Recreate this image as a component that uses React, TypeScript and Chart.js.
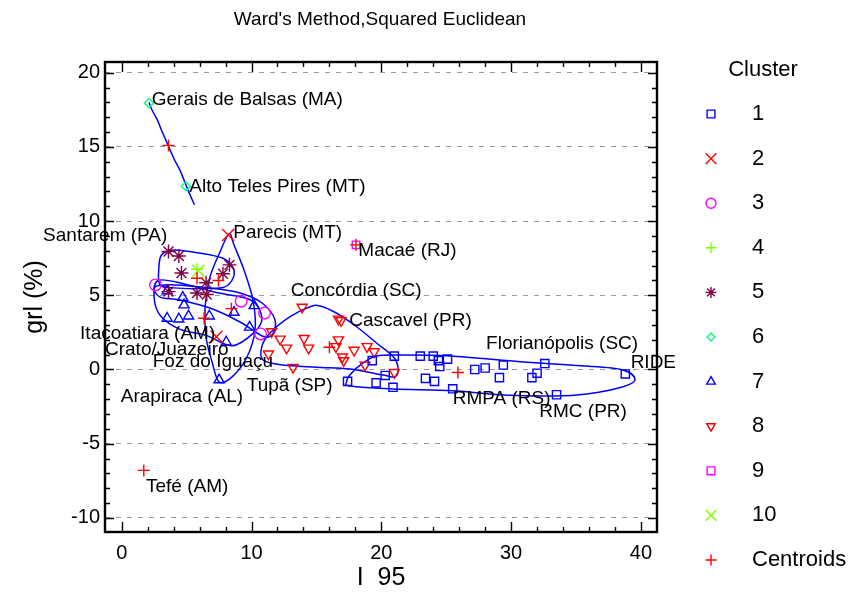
import React, { useEffect, useRef } from 'react';
import { Chart, registerables } from 'chart.js';
import { drawPoint } from 'chart.js/helpers';

Chart.register(...registerables);

const FONT = '"Liberation Sans", Arial, Helvetica, sans-serif';

type Pt = [number, number];

// Cluster members: [I 95, grl (%)]
const cluster1: Pt[] = [
  [17.4, -0.8], [19.3, 0.6], [19.6, -0.9], [20.3, -0.4], [21.0, 0.9], [20.9, -1.2],
  [23.0, 0.9], [23.4, -0.6], [24.0, 0.9], [24.4, 0.6], [24.5, 0.2], [24.1, -0.8],
  [25.1, 0.7], [25.5, -1.3], [27.2, 0.0], [28.0, 0.1], [29.4, 0.3], [29.1, -0.55],
  [31.6, -0.55], [32.0, -0.25], [32.6, 0.4], [33.5, -1.7], [38.8, -0.3],
];
const cluster2: Pt[] = [[8.2, 9.06], [7.3, 2.2]];
const cluster3: Pt[] = [[2.6, 5.7], [9.2, 4.6], [11.0, 3.8], [10.7, 2.4]];
const cluster4: Pt[] = [[5.8, 6.75]];
const cluster5: Pt[] = [
  [3.6, 7.95], [4.4, 7.65], [4.6, 6.5], [8.3, 7.05], [7.8, 6.45],
  [6.5, 5.85], [5.8, 5.15], [6.55, 5.05], [3.6, 5.25],
];
const cluster6: Pt[] = [[2.1, 17.95], [4.95, 12.35]];
const cluster7: Pt[] = [
  [3.5, 5.3], [4.7, 4.85], [4.8, 4.35], [3.5, 3.45], [4.4, 3.4], [5.15, 3.6],
  [6.75, 3.6], [8.65, 3.85], [10.2, 4.3], [9.85, 2.85], [8.05, 1.85], [7.5, -0.7],
];
const cluster8: Pt[] = [
  [13.9, 4.2], [16.7, 3.4], [16.9, 3.3], [11.55, 2.55], [12.2, 2.05], [12.7, 1.45],
  [14.05, 2.1], [14.4, 1.45], [16.7, 2.0], [16.5, 1.55], [17.9, 1.3], [17.0, 0.85],
  [17.1, 0.6], [18.9, 1.55], [19.45, 1.2], [18.75, 0.3], [21.0, -0.2], [11.3, 1.05],
  [13.2, 0.15],
];
const cluster9: Pt[] = [[18.05, 8.4]];
const cluster10: Pt[] = [[5.9, 6.65]];
const centroids: Pt[] = [
  [25.9, -0.2], [7.45, 6.0], [8.45, 4.1], [5.8, 6.15], [3.6, 15.1],
  [6.35, 3.45], [16.0, 1.5], [18.05, 8.4], [1.7, -6.8],
];

const seriesNames = ['1', '2', '3', '4', '5', '6', '7', '8', '9', '10', 'Centroids'];
const seriesData: Pt[][] = [
  cluster1, cluster2, cluster3, cluster4, cluster5, cluster6,
  cluster7, cluster8, cluster9, cluster10, centroids,
];

// Marker appearance for each series (plot radius r, legend radius lr)
const seriesStyles = [
  { color: '#0000ff', style: 'rect', r: 5.8, rot: 0, lr: 5.5 },
  { color: '#ff0000', style: 'crossRot', r: 8.5, rot: 0, lr: 7.5 },
  { color: '#ff00ff', style: 'circle', r: 5.8, rot: 0, lr: 5 },
  { color: '#80ff00', style: 'cross', r: 6, rot: 0, lr: 5.5 },
  { color: '#800040', style: 'star', r: 7, rot: 0, lr: 5.5 },
  { color: '#00ff80', style: 'rectRot', r: 4.6, rot: 0, lr: 4 },
  { color: '#0000ff', style: 'triangle', r: 5.8, rot: 0, lr: 5 },
  { color: '#ff0000', style: 'triangle', r: 5.8, rot: 180, lr: 5 },
  { color: '#ff00ff', style: 'rect', r: 5.3, rot: 0, lr: 5.5 },
  { color: '#80ff00', style: 'crossRot', r: 8.5, rot: 0, lr: 7.5 },
  { color: '#ff0000', style: 'cross', r: 6, rot: 0, lr: 5.5 },
];

// Cluster outlines (closed) and the cluster 6 link (open)
const link6: Pt[] = [
  [2.1, 18.0], [2.35, 17.45], [2.75, 16.8], [3.1, 16.05], [3.6, 15.05],
  [4.05, 14.15], [4.5, 13.4], [5.1, 12.1], [5.6, 11.1],
];
const outline5: Pt[] = [
  [3.05, 7.7], [3.95, 8.05], [6.0, 7.85], [7.8, 7.5], [8.55, 6.9], [8.6, 6.2],
  [7.9, 5.55], [6.0, 5.45], [4.0, 5.5], [2.95, 5.7], [2.85, 6.7],
];
const outline2: Pt[] = [
  [8.27, 9.14], [7.57, 7.92], [6.8, 6.24], [6.42, 4.22], [6.49, 2.2], [6.96, 0.51],
  [7.5, -0.84], [8.5, -0.5], [9.65, 0.84], [10.27, 2.66], [10.11, 4.68], [9.42, 6.7],
  [8.65, 8.39],
];
const outline3: Pt[] = [
  [2.57, 5.56], [4.11, 5.7], [6.8, 5.49], [9.11, 5.16], [10.81, 4.48], [11.81, 3.34],
  [11.58, 2.32], [10.81, 2.26], [9.11, 3.2], [6.8, 4.14], [4.49, 4.68], [2.95, 4.88],
];
const outline7: Pt[] = [
  [2.8, 6.0], [4.9, 5.75], [7.2, 5.2], [9.9, 4.7], [10.8, 3.5], [10.2, 2.5],
  [8.5, 1.6], [6.5, 2.3], [4.5, 2.7], [3.0, 3.6], [2.5, 4.8],
];
const outline8: Pt[] = [
  [10.79, 1.54], [11.43, 2.46], [12.97, 3.56], [14.51, 4.23], [15.28, 4.28],
  [16.56, 3.79], [18.1, 2.88], [19.65, 1.77], [20.92, 0.86], [21.29, 0.1],
  [21.06, -0.49], [20.13, -0.37], [17.59, 0.03], [15.02, 0.15], [12.43, 0.3],
  [10.89, 0.64],
];
const outline1: Pt[] = [
  [17.33, -0.82], [17.59, -0.35], [18.59, 0.44], [19.65, 0.91], [21.44, 0.98],
  [25.29, 0.91], [30.68, 0.53], [34.54, 0.3], [38.39, 0.01], [39.55, -0.66],
  [38.62, -1.16], [35.82, -1.65], [33.23, -1.79], [29.38, -1.72], [25.52, -1.43],
  [20.9, -1.31], [17.59, -1.11],
];
const closedOutlines: Pt[][] = [outline5, outline2, outline3, outline7, outline8, outline1];

// Region names, anchored at the start of each text
const siteNames = [
  'Gerais de Balsas (MA)', 'Alto Teles Pires (MT)', 'Santarem (PA)', 'Parecis (MT)',
  'Macaé (RJ)', 'Concórdia (SC)', 'Cascavel (PR)', 'Itacoatiara (AM)', 'Crato/Juazeiro',
  'Foz do Iguaçu', 'Arapiraca (AL)', 'Tupã (SP)', 'Florianópolis (SC)', 'RIDE',
  'RMPA (RS)', 'RMC (PR)', 'Tefé (AM)',
];
const siteX = [2.31, 5.21, -6.06, 8.6, 18.23, 13.02, 17.53, -3.21, -1.29, 2.39, -0.08, 9.63, 28.07, 39.21, 25.5, 32.17, 1.87];
const siteY = [18.16, 12.32, 9.0, 9.18, 8.01, 5.31, 3.29, 2.39, 1.36, 0.53, -1.83, -1.11, 1.72, 0.42, -1.94, -2.84, -7.92];

const chartTitle = "Ward's Method,Squared Euclidean";
const legendTitle = 'Cluster';
const xTitle = 'I  95';
const yTitle = 'grl (%)';

const X_MIN = -1.29;
const X_MAX = 41.24;
const Y_MIN = -10.95;
const Y_MAX = 20.72;

function strokeClosedSpline(ctx: CanvasRenderingContext2D, p: { x: number; y: number }[]) {
  const n = p.length;
  ctx.beginPath();
  ctx.moveTo(p[0].x, p[0].y);
  for (let i = 0; i < n; i++) {
    const p0 = p[(i - 1 + n) % n];
    const p1 = p[i];
    const p2 = p[(i + 1) % n];
    const p3 = p[(i + 2) % n];
    ctx.bezierCurveTo(
      p1.x + (p2.x - p0.x) / 6, p1.y + (p2.y - p0.y) / 6,
      p2.x - (p3.x - p1.x) / 6, p2.y - (p3.y - p1.y) / 6,
      p2.x, p2.y,
    );
  }
  ctx.stroke();
}

function strokeOpenSpline(ctx: CanvasRenderingContext2D, p: { x: number; y: number }[]) {
  const n = p.length;
  ctx.beginPath();
  ctx.moveTo(p[0].x, p[0].y);
  for (let i = 0; i < n - 1; i++) {
    const p0 = p[Math.max(i - 1, 0)];
    const p1 = p[i];
    const p2 = p[i + 1];
    const p3 = p[Math.min(i + 2, n - 1)];
    ctx.bezierCurveTo(
      p1.x + (p2.x - p0.x) / 6, p1.y + (p2.y - p0.y) / 6,
      p2.x - (p3.x - p1.x) / 6, p2.y - (p3.y - p1.y) / 6,
      p2.x, p2.y,
    );
  }
  ctx.stroke();
}

const decorations = {
  id: 'decorations',
  beforeDatasetsDraw(chart: any) {
    const { ctx, scales } = chart;
    const toPx = (pts: Pt[]) =>
      pts.map(([x, y]) => ({ x: scales.x.getPixelForValue(x), y: scales.y.getPixelForValue(y) }));
    ctx.save();
    ctx.strokeStyle = '#0000ff';
    ctx.lineWidth = 1.5;
    ctx.lineJoin = 'round';
    closedOutlines.forEach((o) => strokeClosedSpline(ctx, toPx(o)));
    strokeOpenSpline(ctx, toPx(link6));
    ctx.restore();
  },
  afterDatasetsDraw(chart: any) {
    const { ctx, scales, chartArea: ca } = chart;
    const xs = scales.x;
    const ys = scales.y;
    ctx.save();

    // frame with inward ticks on all four sides
    ctx.strokeStyle = '#000';
    ctx.lineWidth = 1.4;
    ctx.beginPath();
    for (let v = -10; v <= 20; v++) {
      const y = Math.round(ys.getPixelForValue(v)) + 0.5;
      const len = v % 5 === 0 ? 9 : 5;
      ctx.moveTo(ca.left, y); ctx.lineTo(ca.left + len, y);
      ctx.moveTo(ca.right, y); ctx.lineTo(ca.right - len, y);
    }
    for (let v = 0; v <= 40; v += 2) {
      const x = Math.round(xs.getPixelForValue(v)) + 0.5;
      const len = v % 10 === 0 ? 10 : 5;
      ctx.moveTo(x, ca.bottom); ctx.lineTo(x, ca.bottom - len);
      ctx.moveTo(x, ca.top); ctx.lineTo(x, ca.top + len);
    }
    ctx.stroke();
    ctx.lineWidth = 2.4;
    ctx.strokeRect(ca.left, ca.top, ca.right - ca.left, ca.bottom - ca.top);

    // region names
    ctx.fillStyle = '#000';
    ctx.font = `19px ${FONT}`;
    ctx.textAlign = 'left';
    ctx.textBaseline = 'middle';
    siteNames.forEach((name, i) => {
      ctx.fillText(name, xs.getPixelForValue(siteX[i]), ys.getPixelForValue(siteY[i]));
    });

    // chart title
    ctx.textAlign = 'center';
    ctx.font = `19px ${FONT}`;
    ctx.fillText(chartTitle, 380, 20);

    // legend
    ctx.font = `22px ${FONT}`;
    ctx.fillText(legendTitle, 763, 70);
    ctx.textAlign = 'left';
    seriesNames.forEach((name, i) => {
      const s = seriesStyles[i];
      const y = 114 + i * 44.6;
      ctx.fillStyle = '#000';
      ctx.fillText(name, 752, y);
      ctx.save();
      ctx.strokeStyle = s.color;
      ctx.fillStyle = 'rgba(0,0,0,0)';
      ctx.lineWidth = 1.4;
      drawPoint(ctx, { pointStyle: s.style, rotation: s.rot, radius: s.lr, borderWidth: 1.4 } as any, 711, y);
      ctx.restore();
    });
    ctx.restore();
  },
};

export default function App() {
  const canvasRef = useRef<HTMLCanvasElement | null>(null);

  useEffect(() => {
    if (!canvasRef.current) return;
    Chart.defaults.font.family = FONT;
    Chart.defaults.color = '#000';

    const datasets = seriesData.map((pts, i) => {
      const s = seriesStyles[i];
      return {
        label: seriesNames[i],
        data: pts.map(([x, y]) => ({ x, y })),
        pointStyle: s.style,
        pointRotation: s.rot,
        pointRadius: s.r,
        pointBorderWidth: 1.4,
        pointBorderColor: s.color,
        pointBackgroundColor: 'rgba(0,0,0,0)',
        showLine: false,
        order: i === seriesData.length - 1 ? -1 : i,
      };
    });

    const chart = new Chart(canvasRef.current, {
      type: 'scatter',
      data: { datasets },
      options: {
        animation: false,
        responsive: false,
        layout: { padding: { top: 62, right: 194, left: 0, bottom: 0 } },
        plugins: {
          legend: { display: false },
          title: { display: false },
          tooltip: { enabled: false },
        },
        scales: {
          x: {
            type: 'linear',
            min: X_MIN,
            max: X_MAX,
            afterFit: (s: any) => { s.height = 62; },
            ticks: { stepSize: 10, includeBounds: false, font: { size: 20 }, padding: 9, maxRotation: 0 },
            grid: { display: false, drawTicks: false },
            border: { display: false },
            title: { display: true, text: xTitle, font: { size: 25 }, padding: { top: 0, bottom: 1 } },
          },
          y: {
            type: 'linear',
            min: Y_MIN,
            max: Y_MAX,
            afterFit: (s: any) => { s.width = 105; },
            ticks: { stepSize: 5, includeBounds: false, font: { size: 20 }, padding: 5 },
            grid: { color: '#9a9a9a', lineWidth: 1, drawTicks: false },
            border: { display: false, dash: [5, 6] },
            title: { display: true, text: yTitle, font: { size: 25 }, padding: { top: 20, bottom: 0 } },
          },
        },
      },
      plugins: [decorations],
    } as any);

    return () => chart.destroy();
  }, []);

  return (
    <div style={{ position: 'absolute', left: 0, top: 0, width: 851, height: 594, background: '#fff' }}>
      <canvas ref={canvasRef} width={851} height={594} style={{ display: 'block' }} />
    </div>
  );
}
